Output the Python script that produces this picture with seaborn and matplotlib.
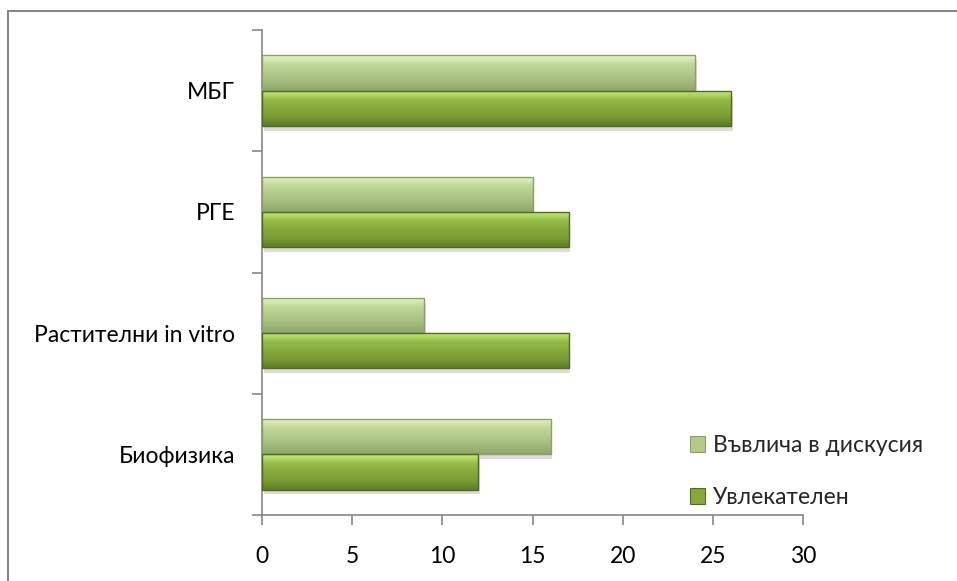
import matplotlib
matplotlib.use("Agg")
import matplotlib.pyplot as plt
import seaborn as sns
import pandas as pd
import numpy as np
from matplotlib.colors import LinearSegmentedColormap
from matplotlib.lines import Line2D

categories = ["МБГ", "РГЕ", "Растителни in vitro", "Биофизика"]
series_names = ["Въвлича в дискусия", "Увлекателен"]
vals_discussion = [24, 15, 9, 16]
vals_engaging = [26, 17, 17, 12]
x_ticks = [0, 5, 10, 15, 20, 25, 30]

df = pd.DataFrame({
    "category": categories * 2,
    "series": [series_names[0]] * len(categories) + [series_names[1]] * len(categories),
    "value": vals_discussion + vals_engaging,
})

sns.set_theme(style="white")
plt.rcParams['font.family'] = ['Lato', 'DejaVu Sans']

fig = plt.figure(figsize=(9.57, 5.81), dpi=100)
ax = fig.add_axes([262/957, 1 - 515/581, (803-262)/957, (515-30)/581])

base = {series_names[0]: "#b2ca8a", series_names[1]: "#86a93c"}
sns.barplot(data=df, y="category", x="value", hue="series", order=categories,
            hue_order=series_names, palette=base, orient="h", width=0.58,
            ax=ax, saturation=1, edgecolor="none", legend=False)

grads = {
    series_names[0]: ["#e6f7c4", "#c3d99b", "#b2ca8a", "#a3ba7c", "#8ea66a"],
    series_names[1]: ["#c8ef7e", "#98bd48", "#86a93c", "#7a9b35", "#5d7d27"],
}
edges = {series_names[0]: "#8aa068", series_names[1]: "#4f6b22"}
n = len(categories)
for i, p in enumerate(ax.patches[:2 * n]):
    s = series_names[i // n]
    x0, y0 = p.get_x(), p.get_y()
    w, h = p.get_width(), p.get_height()
    ax.add_patch(plt.Rectangle((x0 + 0.1, y0 + h * 0.14), w, h, color="#000000",
                               alpha=0.14, zorder=1, lw=0))
    cmap = LinearSegmentedColormap.from_list("g", grads[s])
    grad = np.linspace(0, 1, 64).reshape(-1, 1)
    im = ax.imshow(grad, cmap=cmap, aspect="auto", extent=(x0, x0 + w, y0 + h, y0),
                   zorder=3, interpolation="bicubic")
    im.set_clip_path(p)
    p.set_zorder(2)
    ax.add_patch(plt.Rectangle((x0, y0), w, h, fill=False, ec=edges[s], lw=1.0, zorder=4))

ax.set_xlim(0, 30)
ax.set_ylim(n - 0.5, -0.5)
ax.set_xticks(x_ticks)
ax.set_xticklabels([str(t) for t in x_ticks])
ax.set_yticks(range(n))
ax.set_yticklabels(categories)
ax.set_yticks(np.arange(-0.5, n, 1.0), minor=True)
ax.set_xlabel("")
ax.set_ylabel("")

gray = "#868686"
fs = 16.5
for side in ["top", "right"]:
    ax.spines[side].set_visible(False)
for side in ["left", "bottom"]:
    ax.spines[side].set_color(gray)
    ax.spines[side].set_linewidth(1.2)

ax.tick_params(axis="y", which="major", length=0, pad=19.5, labelsize=fs, labelcolor="black")
ax.tick_params(axis="y", which="minor", left=True, length=7, width=1.2, color=gray, direction="out")
ax.tick_params(axis="x", which="major", bottom=True, length=7, width=1.2, color=gray,
               direction="out", pad=15, labelsize=fs, labelcolor="black")

handles = [plt.Rectangle((0, 0), 1, 1, fc=base[s], ec=edges[s], lw=0.8) for s in series_names]
leg = fig.legend(handles, series_names, loc="upper left", bbox_to_anchor=(690/957, 1 - 435/581),
                 frameon=False, fontsize=fs, handlelength=0.65, handleheight=0.65,
                 handletextpad=0.35, labelspacing=1.35, borderaxespad=0, borderpad=0)

fig.add_artist(Line2D([8/957, 1.0], [1 - 11/581, 1 - 11/581], color=gray, lw=1.5))
fig.add_artist(Line2D([8/957, 8/957], [0.0, 1 - 11/581], color=gray, lw=1.5))

fig.savefig("out.png", dpi=100)
